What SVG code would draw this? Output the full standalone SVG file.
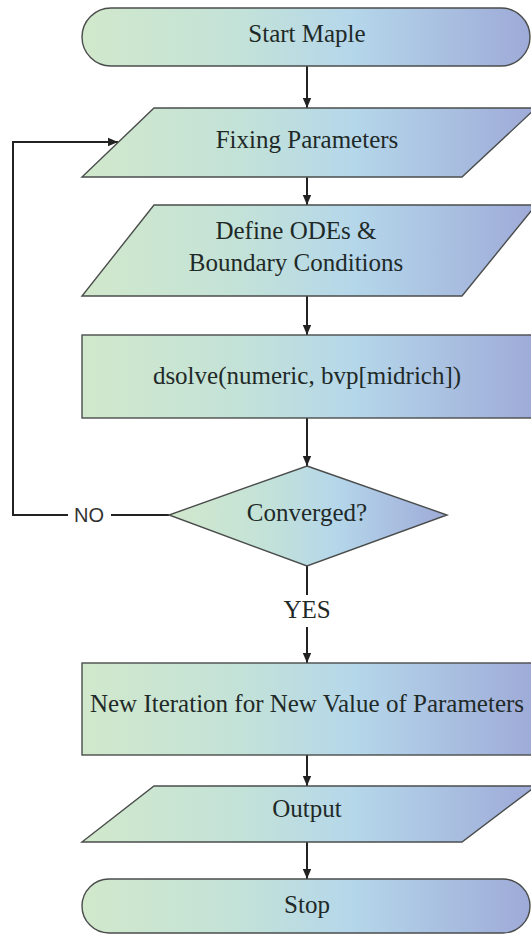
<svg xmlns="http://www.w3.org/2000/svg" width="531" height="935" viewBox="0 0 531 935">
<style>
.shape{stroke:#4a4d4c;stroke-width:1.4;fill:url(#g)}
.lbl{font-family:"Liberation Serif","Times New Roman",serif;font-size:25px;fill:#1f2a28;text-anchor:middle}
.sans{font-family:"Liberation Sans",Arial,sans-serif;font-size:20px;fill:#333;text-anchor:middle}
.con{stroke:#222;stroke-width:2;fill:none}
</style>
<defs>
<linearGradient id="g" x1="0" y1="0" x2="1" y2="0">
<stop offset="0" stop-color="#d1e8cb"/>
<stop offset="0.35" stop-color="#c3e2d8"/>
<stop offset="0.6" stop-color="#b5d7ea"/>
<stop offset="1" stop-color="#9eaad8"/>
</linearGradient>
<marker id="ah" markerUnits="userSpaceOnUse" markerWidth="10" markerHeight="10" viewBox="0 0 10 10" refX="10" refY="5" orient="auto">
<path d="M0,0.8 L10,5 L0,9.2 Z" fill="#222"/>
</marker>
</defs>
<rect width="531" height="935" fill="#ffffff"/>
<g id="connectors">
<line class="con" x1="307" y1="66" x2="307" y2="108" marker-end="url(#ah)"/>
<line class="con" x1="307" y1="177" x2="307" y2="205" marker-end="url(#ah)"/>
<line class="con" x1="307" y1="296" x2="307" y2="335" marker-end="url(#ah)"/>
<line class="con" x1="307" y1="418" x2="307" y2="466" marker-end="url(#ah)"/>
<line class="con" x1="307" y1="566" x2="307" y2="595"/>
<line class="con" x1="307" y1="627" x2="307" y2="663" marker-end="url(#ah)"/>
<line class="con" x1="307" y1="755" x2="307" y2="786" marker-end="url(#ah)"/>
<line class="con" x1="307" y1="842" x2="307" y2="879" marker-end="url(#ah)"/>
<line class="con" x1="169" y1="515" x2="111" y2="515"/>
<polyline class="con" points="68,515 13,515 13,142 118,142" marker-end="url(#ah)"/>
<text class="sans" x="89" y="522">NO</text>
<text class="lbl" x="307" y="618">YES</text>
</g>
<g id="start">
<rect class="shape" x="82" y="8" width="448" height="58" rx="29" ry="29"/>
<text class="lbl" x="307" y="42">Start Maple</text>
</g>
<g id="fixing">
<polygon class="shape" points="154,108 536,108 462,177 82,177"/>
<text class="lbl" x="307" y="148">Fixing Parameters</text>
</g>
<g id="define">
<polygon class="shape" points="154,205 536,205 462,296 82,296"/>
<text class="lbl" x="296" y="239">Define ODEs &amp;</text>
<text class="lbl" x="296" y="271">Boundary Conditions</text>
</g>
<g id="dsolve">
<rect class="shape" x="82" y="335" width="455" height="83"/>
<text class="lbl" x="307" y="384">dsolve(numeric, bvp[midrich])</text>
</g>
<g id="converged">
<polygon class="shape" points="307,466 447,515 307,566 169,515"/>
<text class="lbl" x="307" y="521">Converged?</text>
</g>
<g id="iteration">
<rect class="shape" x="82" y="663" width="455" height="92"/>
<text class="lbl" x="307" y="712">New Iteration for New Value of Parameters</text>
</g>
<g id="output">
<polygon class="shape" points="154,786 536,786 462,842 82,842"/>
<text class="lbl" x="307" y="817">Output</text>
</g>
<g id="stop">
<rect class="shape" x="82" y="879" width="448" height="54" rx="27" ry="27"/>
<text class="lbl" x="307" y="913">Stop</text>
</g>
</svg>
